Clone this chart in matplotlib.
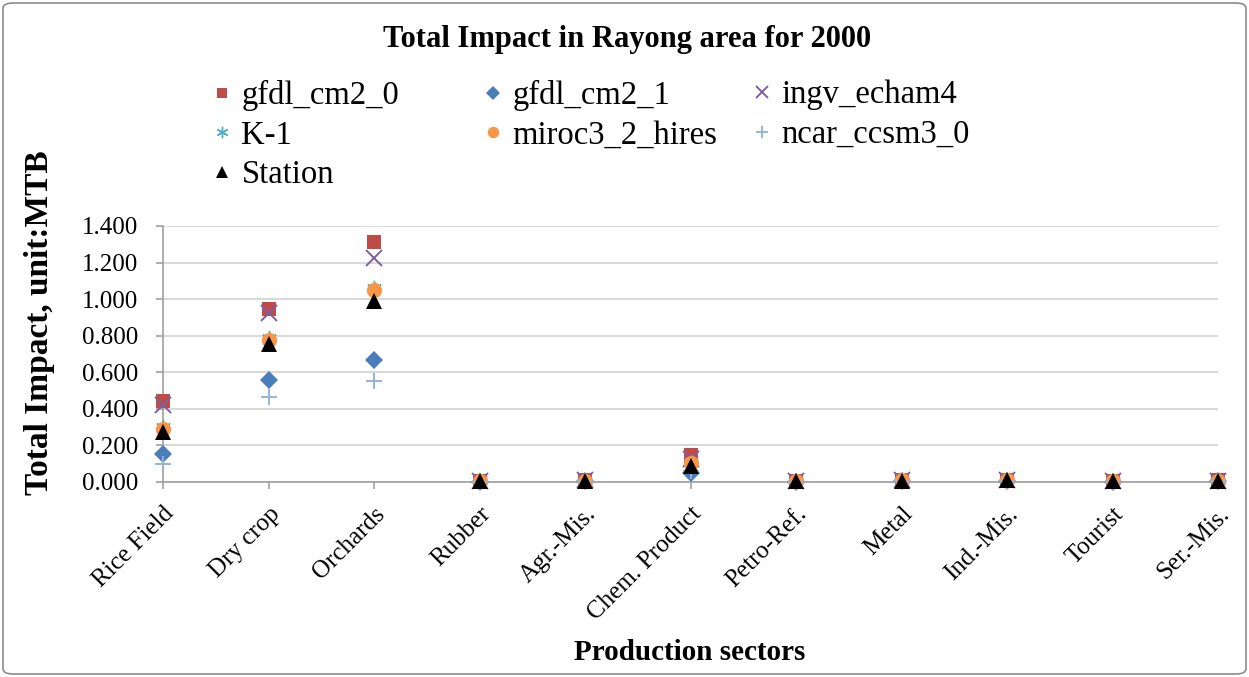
import matplotlib
matplotlib.use("Agg")
import matplotlib.pyplot as plt
from matplotlib.patches import FancyBboxPatch

categories = ["Rice Field", "Dry crop", "Orchards", "Rubber", "Agr.-Mis.",
              "Chem. Product", "Petro-Ref.", "Metal", "Ind.-Mis.", "Tourist", "Ser.-Mis."]

gfdl_cm2_0    = [0.445, 0.945, 1.315, 0.004, 0.009, 0.145, 0.004, 0.011, 0.013, 0.003, 0.009]
gfdl_cm2_1    = [0.155, 0.558, 0.665, 0.002, 0.005, 0.050, 0.002, 0.006, 0.007, 0.002, 0.005]
ingv_echam4   = [0.420, 0.925, 1.225, 0.004, 0.009, 0.125, 0.004, 0.010, 0.012, 0.003, 0.008]
k_1           = [0.300, 0.785, 1.060, 0.003, 0.007, 0.110, 0.003, 0.009, 0.010, 0.003, 0.007]
miroc3_2_hires= [0.290, 0.775, 1.050, 0.003, 0.007, 0.105, 0.003, 0.009, 0.010, 0.003, 0.007]
ncar_ccsm3_0  = [0.100, 0.465, 0.555, 0.002, 0.004, 0.060, 0.002, 0.005, 0.006, 0.002, 0.004]
station       = [0.275, 0.755, 0.990, 0.003, 0.007, 0.085, 0.003, 0.008, 0.009, 0.003, 0.007]

yticks = [0.0, 0.2, 0.4, 0.6, 0.8, 1.0, 1.2, 1.4]

plt.rcParams['font.family'] = ['Liberation Serif', 'DejaVu Serif']

W, H = 1249, 677
fig = plt.figure(figsize=(W/100, H/100), dpi=100)
ax = fig.add_axes([163/W, 1-482/H, (1218-163)/W, (482-226)/H])

x = list(range(len(categories)))
series = [
    ("gfdl_cm2_0", gfdl_cm2_0, dict(marker='s', color='#BE4B48', ms=10.5, mew=0)),
    ("gfdl_cm2_1", gfdl_cm2_1, dict(marker='D', color='#4A7EBB', ms=9, mew=0)),
    ("ingv_echam4", ingv_echam4, dict(marker='x', color='#7D60A0', ms=11, mew=1.4)),
    ("K-1", k_1, dict(marker=(6, 2, 0), color='#4BACC6', ms=11, mew=1.0)),
    ("miroc3_2_hires", miroc3_2_hires, dict(marker='o', color='#F79646', ms=11, mew=0)),
    ("ncar_ccsm3_0", ncar_ccsm3_0, dict(marker='+', color='#95B3D7', ms=12, mew=1.4)),
    ("Station", station, dict(marker='^', color='black', ms=11, mew=0)),
]
handles = {}
for name, vals, st in series:
    h, = ax.plot(x, vals, linestyle='none', label=name, clip_on=False, zorder=3, **st)
    handles[name] = h

ax.set_xlim(0, 10)
ax.set_ylim(0, 1.4)
ax.set_yticks(yticks)
ax.set_yticklabels([f"{v:.3f}" for v in yticks], fontsize=18)
ax.set_xticks(x)
ax.set_xticklabels(categories, rotation=45, ha='right', va='top', fontsize=18,
                   rotation_mode='anchor')
ax.grid(axis='y', color='#D9D9D9', linewidth=1.5)
ax.set_axisbelow(True)
for s in ['top', 'right']:
    ax.spines[s].set_visible(False)
for s in ['left', 'bottom']:
    ax.spines[s].set_color('#A0A0A0')
    ax.spines[s].set_linewidth(1.2)
ax.tick_params(axis='both', colors='#A0A0A0', labelcolor='black', length=5, width=1.2)
ax.tick_params(axis='y', pad=13)
ax.tick_params(axis='x', pad=10)

fig.text(40/W, 1-323/H, "Total Impact, unit:MTB", rotation=90, ha='center', va='center',
         fontsize=24, fontweight='bold')
fig.text(690/W, 1-652/H, "Production sectors", ha='center', va='center',
         fontsize=21, fontweight='bold')
fig.text(627/W, 1-40/H, "Total Impact in Rayong area for 2000", ha='center', va='center',
         fontsize=22, fontweight='bold')

columns = [(["gfdl_cm2_0", "K-1", "Station"], 212),
           (["gfdl_cm2_1", "miroc3_2_hires"], 483),
           (["ingv_echam4", "ncar_ccsm3_0"], 752)]
for names, xl in columns:
    leg = fig.legend([handles[n] for n in names], names, loc='upper left',
                     bbox_to_anchor=(xl/W, 1-80/H), frameon=False,
                     fontsize=23.5, handlelength=0.6, handletextpad=0.3,
                     labelspacing=0.28, borderpad=0, borderaxespad=0, markerscale=0.75)

border = FancyBboxPatch((3/W, 3/H), 1-6/W, 1-6/H, boxstyle="round,pad=0,rounding_size=0.008",
                        transform=fig.transFigure, fill=False, edgecolor='#8C8C8C', linewidth=1.2)
fig.patches.append(border)

fig.savefig("out.png", dpi=100)
